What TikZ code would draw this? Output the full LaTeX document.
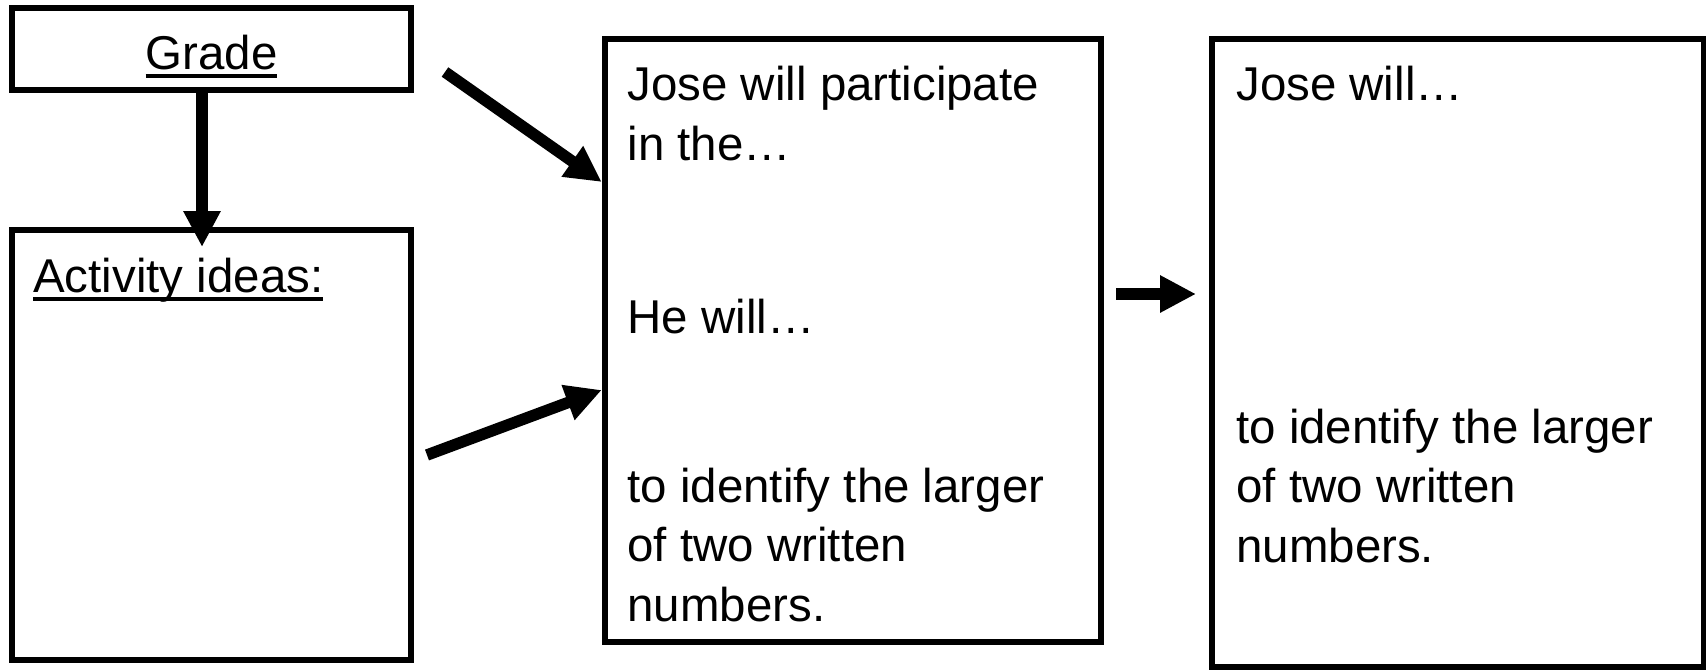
\documentclass[tikz,border=0pt]{standalone}
\usepackage{fontspec}
\setmainfont{Liberation Sans}
\usetikzlibrary{arrows.meta, positioning, calc}

% underlined text
\newcommand{\undl}[1]{\setbox0\hbox{#1}\rlap{\rule[-5pt]{\wd0}{2.3pt}}\box0}

\begin{document}
\begin{tikzpicture}[line join=miter,
    box/.style={draw, line width=0.12cm, inner sep=0pt},
    txt/.style={inner sep=0pt, anchor=north west, align=left, font=\fs},
    arr/.style={-{Triangle[length=0.72cm, width=0.7cm]}, line width=0.23cm}]

    % Font size
    \def\fs{\fontsize{27pt}{33.8pt}\selectfont}

    % Frame
    \useasboundingbox (0,0) rectangle (34.12,13.38);

    % Boxes
    \node[box, minimum width=7.98cm, minimum height=1.64cm, text height=0.80cm, text depth=0pt, font=\fs] (grade) at (4.23,12.40) {\undl{Grade}};
    \node[box, minimum width=7.98cm, minimum height=8.6cm] (ideas) at (4.23,4.48) {};
    \node[box, minimum width=9.93cm, minimum height=12.05cm] (plan) at (17.06,6.565) {};
    \node[box, minimum width=9.84cm, minimum height=12.55cm] (goal) at (29.16,6.315) {};

    % Texts
    \node[txt, below right=0.61cm and 0.48cm of ideas.north west] (ideastxt) {\undl{Activity ideas:}};
    \node[txt, below right=0.59cm and 0.51cm of plan.north west] (plan1) {Jose will participate\\in the…};
    \node[txt, below right=5.24cm and 0.51cm of plan.north west] (plan2) {He will…};
    \node[txt, below right=8.62cm and 0.51cm of plan.north west] (plan3) {to identify the larger\\of two written\\numbers.};
    \node[txt, below right=0.59cm and 0.54cm of goal.north west] (goal1) {Jose will…};
    \node[txt, below right=7.44cm and 0.54cm of goal.north west] (goal2) {to identify the larger\\of two written\\numbers.};

    % Arrows
    \coordinate (from1) at (8.90,11.94);
    \coordinate (from2) at (8.54,4.28);
    \coordinate (from3) at (22.32,7.50);
    \draw[arr] ([xshift=-0.19cm]grade.south) -- ([xshift=-0.19cm, yshift=-0.40cm]ideas.north);
    \draw[arr] (from1) -- ([yshift=3.175cm]plan.west);
    \draw[arr] (from2) -- ([yshift=-0.985cm]plan.west);
    \draw[arr] (from3) -- ($(goal.west |- from3)+(-0.26,0)$);

\end{tikzpicture}
\end{document}
